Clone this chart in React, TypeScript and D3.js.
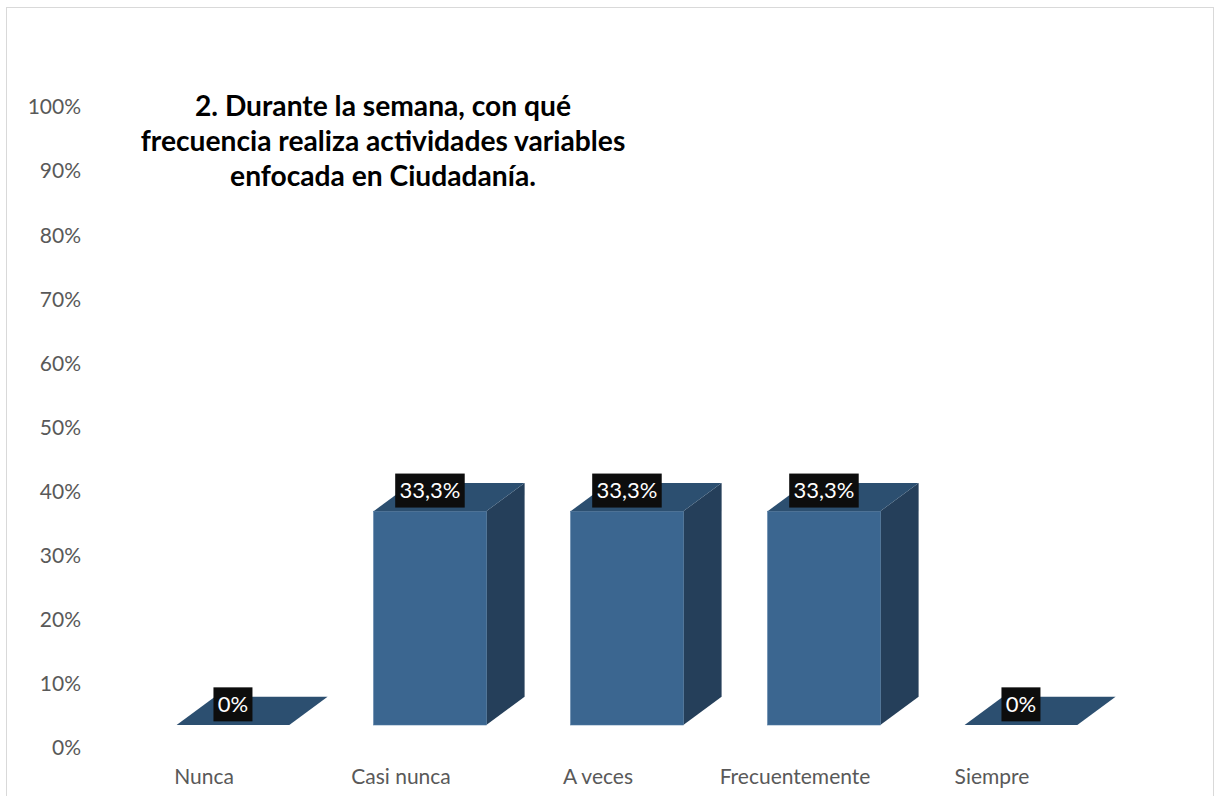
import React, { useEffect, useRef } from "react";
import * as d3 from "d3";

const categories = ["Nunca", "Casi nunca", "A veces", "Frecuentemente", "Siempre"];
const values = [0, 0.333, 0.333, 0.333, 0];
const valueLabels = ["0%", "33,3%", "33,3%", "33,3%", "0%"];
const yTicks = [0, 0.1, 0.2, 0.3, 0.4, 0.5, 0.6, 0.7, 0.8, 0.9, 1.0];
const titleLines = [
  "2. Durante la semana, con qué",
  "frecuencia realiza actividades variables",
  "enfocada en Ciudadanía.",
];

const W = 1216;
const H = 796;
const FONT = "Lato, 'Open Sans', sans-serif";

export default function App() {
  const ref = useRef<SVGSVGElement | null>(null);

  useEffect(() => {
    const svg = d3.select(ref.current);
    svg.selectAll("*").remove();

    // chart border
    svg
      .append("rect")
      .attr("x", 6.5)
      .attr("y", 7.5)
      .attr("width", 1207)
      .attr("height", 800)
      .attr("fill", "#fff")
      .attr("stroke", "#d9d9d9")
      .attr("stroke-width", 1);

    const x = d3.scaleBand<string>().domain(categories).range([105.5, 1090.5]).padding(0);
    const yAxis = d3.scaleLinear().domain([0, 1]).range([748, 107]);
    const yFront = d3.scaleLinear().domain([0, 1]).range([725, 83]);
    const step = x.step();
    const barW = step * 0.572;
    const barShift = step * 0.147; // front face center offset from category center
    const dx = 38.3;
    const dy = -28.3;

    // y-axis labels
    svg
      .append("g")
      .selectAll("text")
      .data(yTicks)
      .join("text")
      .attr("x", 81)
      .attr("y", (d) => yAxis(d))
      .attr("dy", "0.35em")
      .attr("text-anchor", "end")
      .attr("font-family", FONT)
      .attr("font-size", 21)
      .attr("fill", "#595959")
      .text((d) => d3.format(".0%")(d));

    // category labels
    svg
      .append("g")
      .selectAll("text")
      .data(categories)
      .join("text")
      .attr("x", (d) => (x(d) as number) + step / 2)
      .attr("y", 777)
      .attr("dy", "0.35em")
      .attr("text-anchor", "middle")
      .attr("font-family", FONT)
      .attr("font-size", 21)
      .attr("fill", "#595959")
      .text((d) => d);

    const bars = svg.append("g");
    categories.forEach((c, i) => {
      const v = values[i];
      const cx = (x(c) as number) + step / 2 + barShift;
      const x0 = cx - barW / 2;
      const x1 = cx + barW / 2;
      const yT = yFront(v);
      const yB = yFront(0);
      const g = bars.append("g");
      if (yB - yT > 0.5) {
        // side face
        g.append("path")
          .attr(
            "d",
            `M${x1},${yT}L${x1 + dx},${yT + dy}L${x1 + dx},${yB + dy}L${x1},${yB}Z`
          )
          .attr("fill", "#253f5a");
        // front face
        g.append("rect")
          .attr("x", x0)
          .attr("y", yT)
          .attr("width", barW)
          .attr("height", yB - yT)
          .attr("fill", "#3b6690")
          .attr("stroke", "#4f78a0")
          .attr("stroke-width", 0.6);
      }
      // top face
      g.append("path")
        .attr("d", `M${x0},${yT}L${x1},${yT}L${x1 + dx},${yT + dy}L${x0 + dx},${yT + dy}Z`)
        .attr("fill", "#2c4f70");

      // data label
      const ly = yT + dy / 2 - 6.5;
      const lg = g.append("g");
      const rect = lg.append("rect").attr("fill", "#0d0d0d");
      const t = lg
        .append("text")
        .attr("x", cx)
        .attr("y", ly)
        .attr("dy", "0.36em")
        .attr("text-anchor", "middle")
        .attr("font-family", FONT)
        .attr("font-size", 22)
        .attr("fill", "#ffffff")
        .text(valueLabels[i]);
      const tw = (t.node() as SVGTextElement).getComputedTextLength();
      const bw = tw + 8.6;
      rect
        .attr("x", cx - bw / 2)
        .attr("y", ly - 17)
        .attr("width", bw)
        .attr("height", 34);
    });

    // title
    svg
      .append("g")
      .selectAll("text")
      .data(titleLines)
      .join("text")
      .attr("x", 383)
      .attr("y", (_, i) => 116 + i * 35)
      .attr("text-anchor", "middle")
      .attr("font-family", FONT)
      .attr("font-weight", "bold")
      .attr("font-size", 28.2)
      .attr("fill", "#000")
      .text((d) => d);
  }, []);

  return (
    <div style={{ position: "absolute", left: 0, top: 0 }}>
      <svg ref={ref} width={W} height={H} style={{ display: "block" }} />
    </div>
  );
}
